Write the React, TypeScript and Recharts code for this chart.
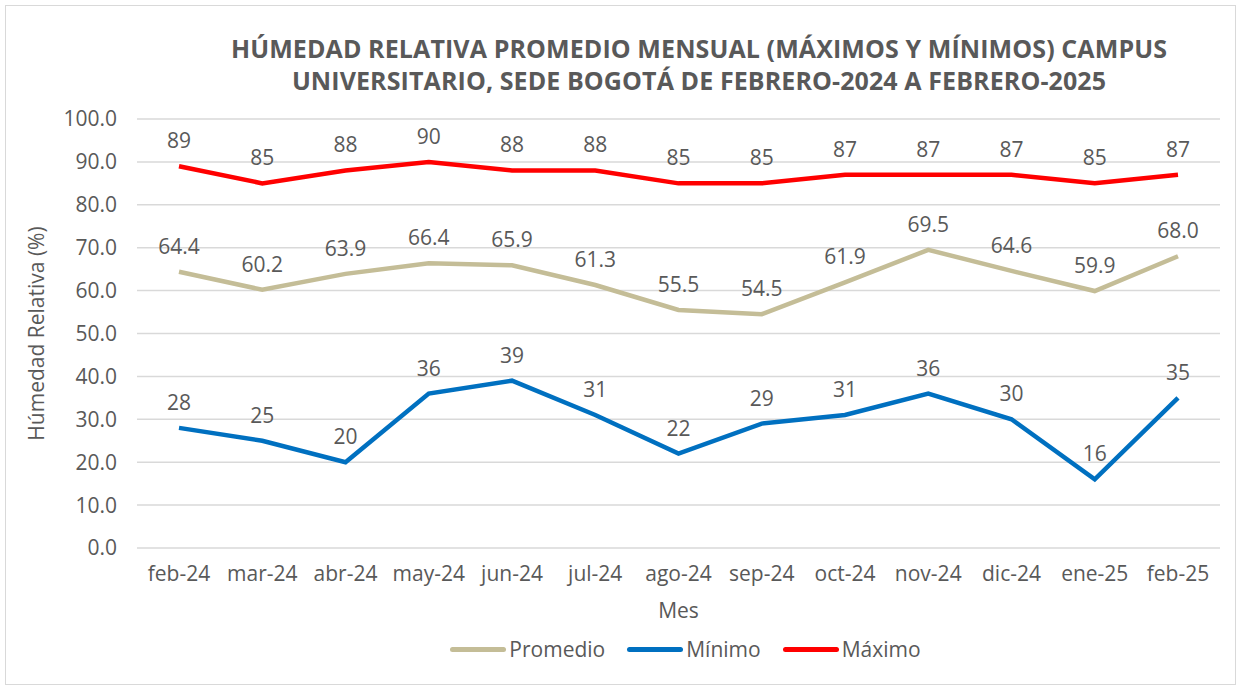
import { LineChart, Line, XAxis, YAxis, CartesianGrid, LabelList } from "recharts";

const months = ["feb-24", "mar-24", "abr-24", "may-24", "jun-24", "jul-24", "ago-24", "sep-24", "oct-24", "nov-24", "dic-24", "ene-25", "feb-25"];
const promedio = [64.4, 60.2, 63.9, 66.4, 65.9, 61.3, 55.5, 54.5, 61.9, 69.5, 64.6, 59.9, 68.0];
const minimo = [28, 25, 20, 36, 39, 31, 22, 29, 31, 36, 30, 16, 35];
const maximo = [89, 85, 88, 90, 88, 88, 85, 85, 87, 87, 87, 85, 87];
const yTicks = [0, 10, 20, 30, 40, 50, 60, 70, 80, 90, 100];

const data = months.map((m, i) => ({ mes: m, promedio: promedio[i], minimo: minimo[i], maximo: maximo[i] }));

const FONT = "'Open Sans', sans-serif";
const GREY = "#595959";

const series = [
  { key: "promedio", name: "Promedio", color: "#C4BD97", fmt: (v: number) => v.toFixed(1) },
  { key: "minimo", name: "Mínimo", color: "#0070C0", fmt: (v: number) => v.toFixed(0) },
  { key: "maximo", name: "Máximo", color: "#FF0000", fmt: (v: number) => v.toFixed(0) },
];

export default function App() {
  return (
    <div style={{ position: "absolute", left: 0, top: 0, width: 1241, height: 690, background: "#fff", fontFamily: FONT }}>
      <div style={{ position: "absolute", left: 5, top: 5, width: 1229, height: 678, border: "1px solid #d9d9d9" }}>
        <div
          style={{
            position: "absolute",
            left: 0,
            top: 26,
            width: 1386,
            textAlign: "center",
            fontWeight: 700,
            fontSize: 25,
            letterSpacing: 0.1,
            lineHeight: "32px",
            color: GREY,
          }}
        >
          HÚMEDAD RELATIVA PROMEDIO MENSUAL (MÁXIMOS Y MÍNIMOS) CAMPUS
          <br />
          UNIVERSITARIO, SEDE BOGOTÁ DE FEBRERO-2024 A FEBRERO-2025
        </div>
        <LineChart width={1229} height={678} data={data} margin={{ top: 113, right: 15, bottom: 96, left: 0 }}>
          <CartesianGrid vertical={false} stroke="#d9d9d9" strokeWidth={1.5} />
          <XAxis
            dataKey="mes"
            axisLine={false}
            tickLine={false}
            tickSize={0}
            tickMargin={18}
            height={40}
            padding={{ left: 42, right: 42 }}
            tick={{ fill: GREY, fontSize: 21, fontFamily: FONT }}
            interval={0}
            label={{ value: "Mes", position: "insideBottom", offset: -30, fill: GREY, fontSize: 21, fontFamily: FONT }}
          />
          <YAxis
            domain={[0, 100]}
            ticks={yTicks}
            width={131}
            axisLine={false}
            tickLine={false}
            tickSize={0}
            tickMargin={20}
            tickFormatter={(v: number) => v.toFixed(1)}
            tick={{ fill: GREY, fontSize: 21, fontFamily: FONT }}
            label={{ value: "Húmedad Relativa (%)", angle: -90, position: "insideLeft", offset: 31, style: { textAnchor: "middle" }, fill: GREY, fontSize: 21, fontFamily: FONT }}
          />
          {series.map((s) => (
            <Line
              key={s.key}
              type="linear"
              dataKey={s.key}
              name={s.name}
              stroke={s.color}
              strokeWidth={4.5}
              dot={false}
              isAnimationActive={false}
            >
              <LabelList dataKey={s.key} position="top" offset={18} formatter={(v: number) => s.fmt(v)} fill={GREY} fontSize={21} fontFamily={FONT} />
            </Line>
          ))}
        </LineChart>
        <div style={{ position: "absolute", left: 0, top: 629, width: 1229, display: "flex", justifyContent: "center", gap: 22, paddingLeft: 130, boxSizing: "border-box" }}>
          {series.map((s) => (
            <div key={s.key} style={{ display: "flex", alignItems: "center", color: GREY, fontSize: 21 }}>
              <span style={{ display: "inline-block", width: 56, height: 5, borderRadius: 3, background: s.color, marginRight: 3 }} />
              {s.name}
            </div>
          ))}
        </div>
      </div>
    </div>
  );
}
